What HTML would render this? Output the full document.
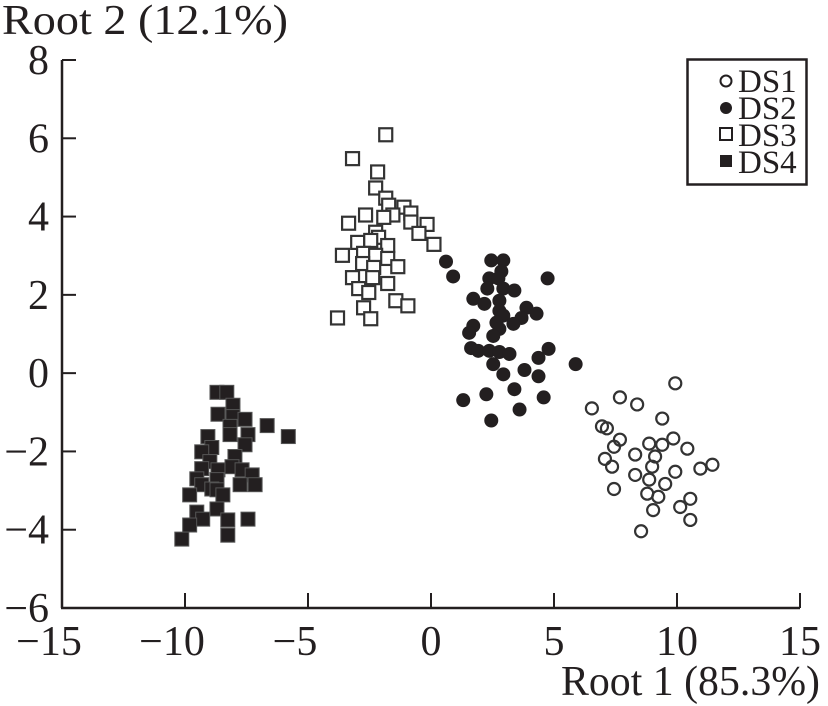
<!DOCTYPE html>
<html><head><meta charset="utf-8"><style>
html,body{margin:0;padding:0;background:#fff;}
svg{display:block;font-family:"Liberation Serif",serif;}
</style></head><body>
<svg id="chart" width="828" height="706" viewBox="0 0 828 706" xmlns="http://www.w3.org/2000/svg">
<g id="axes"></g>
<g id="marks"></g>
<text x="2" y="34" font-size="42" textLength="286" lengthAdjust="spacingAndGlyphs" fill="#231f20">Root 2 (12.1%)</text>
<text x="561" y="695" font-size="42" textLength="259" lengthAdjust="spacingAndGlyphs" fill="#231f20">Root 1 (85.3%)</text>
<g>
<rect x="687.5" y="59.5" width="119" height="125" fill="#fff" stroke="#231f20" stroke-width="2.5"/>
<circle cx="726" cy="81" r="5.5" fill="#fff" stroke="#231f20" stroke-width="2"/>
<text x="738" y="92" font-size="33" fill="#231f20">DS1</text>
<circle cx="726" cy="108" r="6" fill="#231f20"/>
<text x="738" y="119" font-size="33" fill="#231f20">DS2</text>
<rect x="720" y="128" width="12" height="12" fill="#fff" stroke="#231f20" stroke-width="2"/>
<text x="738" y="146" font-size="33" fill="#231f20">DS3</text>
<rect x="720" y="155" width="12" height="12" fill="#231f20"/>
<text x="738" y="173" font-size="33" fill="#231f20">DS4</text>
</g>
</svg>
<script>
const xTicks = [-15,-10,-5,0,5,10,15];
const yTicks = [-6,-4,-2,0,2,4,6,8];
const ds1x = [9.93,7.68,8.38,6.54,9.40,6.95,7.15,7.68,7.44,8.87,9.40,9.85,10.42,8.30,9.11,7.07,7.36,8.99,10.95,9.93,8.30,8.87,9.52,7.44,8.79,9.24,10.13,10.54,9.03,10.54,8.54,11.44];
const ds1y = [-0.26,-0.62,-0.80,-0.90,-1.16,-1.36,-1.41,-1.70,-1.88,-1.80,-1.83,-1.67,-1.93,-2.08,-2.13,-2.19,-2.39,-2.39,-2.44,-2.52,-2.60,-2.72,-2.83,-2.96,-3.08,-3.16,-3.42,-3.21,-3.50,-3.75,-4.04,-2.34];
const ds2x = [0.61,0.90,2.45,2.94,2.86,2.37,2.74,4.74,2.29,2.94,3.39,1.72,2.17,2.78,2.78,3.88,4.29,2.94,3.68,2.66,3.35,2.78,1.72,1.55,2.53,1.63,1.92,2.37,2.78,3.19,4.78,4.37,2.53,5.88,3.80,2.94,4.37,3.39,2.25,4.58,1.31,3.60,2.45];
const ds2y = [2.85,2.47,2.88,2.88,2.60,2.42,2.42,2.42,2.16,2.16,2.11,1.90,1.77,1.85,1.59,1.67,1.52,1.47,1.41,1.29,1.26,1.13,1.21,1.03,0.95,0.64,0.57,0.57,0.54,0.49,0.62,0.39,0.23,0.23,0.08,-0.03,-0.08,-0.41,-0.54,-0.62,-0.69,-0.93,-1.21];
const ds3x = [-1.84,-3.19,-2.17,-2.25,-1.84,-1.72,-1.10,-1.55,-0.82,-1.92,-2.66,-3.35,-0.82,-0.16,-0.49,0.12,-2.25,-2.13,-2.98,-2.45,-1.76,-3.60,-2.74,-2.25,-1.76,-1.35,-2.78,-2.33,-3.19,-2.37,-1.76,-2.94,-2.53,-1.43,-0.94,-2.74,-3.80,-2.45];
const ds3y = [6.09,5.48,5.14,4.73,4.47,4.29,4.24,4.04,4.09,3.98,4.04,3.83,3.86,3.80,3.57,3.29,3.60,3.47,3.34,3.39,3.26,3.01,3.06,3.01,2.93,2.72,2.80,2.70,2.44,2.44,2.29,2.16,2.06,1.85,1.72,1.67,1.41,1.39];
const ds4x = [-8.70,-8.30,-8.05,-8.66,-8.05,-7.56,-6.66,-5.80,-8.17,-8.17,-7.44,-9.07,-7.56,-8.91,-9.32,-7.97,-8.99,-9.32,-8.09,-8.66,-7.68,-7.27,-9.52,-8.70,-7.76,-7.15,-9.32,-8.91,-8.70,-8.46,-9.81,-9.52,-8.70,-9.28,-8.26,-7.44,-9.81,-8.26,-10.13];
const ds4y = [-0.49,-0.49,-0.82,-1.05,-1.11,-1.18,-1.34,-1.62,-1.36,-1.57,-1.57,-1.62,-1.83,-1.90,-2.01,-2.13,-2.26,-2.44,-2.39,-2.47,-2.47,-2.60,-2.70,-2.72,-2.85,-2.85,-2.85,-2.96,-2.98,-3.11,-3.11,-3.55,-3.47,-3.73,-3.75,-3.73,-3.88,-4.14,-4.24];

const NS = "http://www.w3.org/2000/svg";
const X0 = 62, X1 = 800, Y0 = 608, Y1 = 60;
function sx(v){ return X0 + (v + 15) / 30 * (X1 - X0); }
function sy(v){ return Y0 - (v + 6) / 14 * (Y0 - Y1); }
function mk(tag, attrs, parent){ const e = document.createElementNS(NS, tag); for (const k in attrs) e.setAttribute(k, attrs[k]); parent.appendChild(e); return e; }
const axes = document.getElementById('axes');
const marks = document.getElementById('marks');
const ink = "#231f20";

let yl = mk('line', {x1:X0, y1:Y1, x2:X0, y2:Y0, stroke:ink, 'stroke-width':2.5}, axes);


let xl = mk('line', {x1:X0-1, y1:Y0, x2:X1, y2:Y0, stroke:ink, 'stroke-width':2.5}, axes);



xTicks.forEach(t => {
  const tk = mk('line', {x1:sx(t), y1:Y0, x2:sx(t), y2:Y0-15, stroke:ink, 'stroke-width':2}, axes);
  
  
  const lb = mk('text', {x:sx(t) - (t < 0 ? 13 : 0), y:655, 'font-size':42, 'text-anchor':'middle', fill:ink}, axes);
  lb.textContent = t < 0 ? '\u2212' + Math.abs(t) : String(t);
  
  
});
yTicks.forEach(t => {
  const tk = mk('line', {x1:X0, y1:sy(t), x2:X0+14, y2:sy(t), stroke:ink, 'stroke-width':2}, axes);
  
  
  const lb = mk('text', {x:49, y:sy(t)+14, 'font-size':42, 'text-anchor':'end', fill:ink}, axes);
  lb.textContent = t < 0 ? '\u2212' + Math.abs(t) : String(t);
  
  
});

ds3x.forEach((v, i) => {
  const r = mk('rect', {x:sx(v)-6.5, y:sy(ds3y[i])-6.5, width:13, height:13, fill:'#fff', stroke:'#333', 'stroke-width':2.2}, marks);
  
  
});
ds4x.forEach((v, i) => {
  const r = mk('rect', {x:sx(v)-7, y:sy(ds4y[i])-7, width:14, height:14, fill:ink, stroke:'#555', 'stroke-width':1}, marks);
  
  
});
ds2x.forEach((v, i) => {
  const c = mk('circle', {cx:sx(v), cy:sy(ds2y[i]), r:7, fill:ink}, marks);
  
  
});
ds1x.forEach((v, i) => {
  const c = mk('circle', {cx:sx(v), cy:sy(ds1y[i]), r:6, fill:'none', stroke:'#333', 'stroke-width':2.2}, marks);
  
  
});
</script>
</body></html>
